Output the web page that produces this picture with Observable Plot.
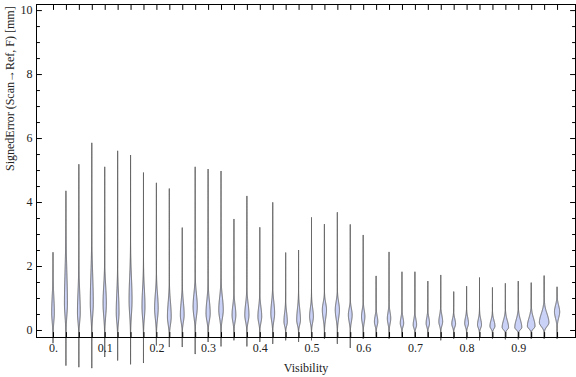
<!DOCTYPE html>
<html><head><meta charset="utf-8">
<script src="https://cdn.jsdelivr.net/npm/d3@7"></script>
<script src="https://cdn.jsdelivr.net/npm/@observablehq/plot@0.6"></script>
<style>body{margin:0;background:#fff}</style>
</head><body><div id="chart"></div>
<script>
// categories (Visibility bins)
const visibility = [0,0.025,0.05,0.075,0.1,0.125,0.15,0.175,0.2,0.225,0.25,0.275,0.3,0.325,0.35,0.375,0.4,0.425,0.45,0.475,0.5,0.525,0.55,0.575,0.6,0.625,0.65,0.675,0.7,0.725,0.75,0.775,0.8,0.825,0.85,0.875,0.9,0.925,0.95,0.975];
// violin extents (max / min of SignedError)
const maxErr = [2.43,4.35,5.18,5.85,5.1,5.6,5.47,4.92,4.6,4.42,3.2,5.1,5.03,4.97,3.47,4.19,3.21,3.99,2.42,2.5,3.52,3.31,3.68,3.3,2.97,1.69,2.44,1.82,1.82,1.53,1.72,1.2,1.37,1.64,1.33,1.46,1.53,1.48,1.7,1.35];
const minErr = [-0.4,-1.1,-1.15,-1.18,-0.83,-0.94,-1.06,-1.02,-0.47,-0.52,-0.52,-0.74,-0.36,-0.5,-0.31,-0.5,-0.36,-0.42,-0.31,-0.36,-0.31,-0.26,-0.42,-0.55,-0.26,-0.2,-0.26,-0.2,-0.2,-0.2,-0.31,-0.26,-0.28,-0.31,-0.26,-0.28,-0.28,-0.26,-0.26,-0.26];
// density mode location, relative peak density and spreads above / below the mode
const modeErr = [0.55,0.83,0.55,0.83,0.83,0.55,0.94,0.73,0.68,0.42,0.47,0.73,0.52,0.63,0.47,0.47,0.42,0.52,0.26,0.31,0.42,0.63,0.63,0.47,0.42,0.26,0.36,0.21,0.16,0.21,0.26,0.19,0.21,0.16,0.12,0.08,0.08,0.12,0.23,0.57];
const peakDensity = [0.27,0.3,0.28,0.3,0.33,0.28,0.3,0.3,0.36,0.38,0.38,0.42,0.42,0.45,0.38,0.42,0.38,0.38,0.34,0.38,0.38,0.42,0.42,0.38,0.34,0.34,0.34,0.34,0.34,0.34,0.38,0.38,0.38,0.4,0.5,0.64,0.7,0.76,0.95,0.52];
const spreadUp = [0.5,1.0,0.65,0.9,0.55,0.6,0.7,0.55,0.45,0.45,0.4,0.4,0.4,0.4,0.3,0.35,0.3,0.35,0.28,0.35,0.27,0.22,0.25,0.2,0.2,0.18,0.2,0.18,0.18,0.18,0.2,0.16,0.18,0.18,0.18,0.22,0.24,0.25,0.28,0.2];
const spreadDown = [0.3,0.4,0.3,0.4,0.4,0.3,0.45,0.35,0.33,0.25,0.22,0.31,0.23,0.27,0.21,0.21,0.19,0.23,0.13,0.15,0.19,0.27,0.27,0.21,0.19,0.13,0.17,0.11,0.1,0.11,0.13,0.1,0.11,0.1,0.08,0.07,0.07,0.08,0.12,0.2];
// tick labels
const xTickLabels = [0,0.1,0.2,0.3,0.4,0.5,0.6,0.7,0.8,0.9];
const yMajorTicks = [0,2,4,6,8,10];
const yMinorTicks = [0.5,1,1.5,2.5,3,3.5,4.5,5,5.5,6.5,7,7.5,8.5,9,9.5];

const densityScale = 0.0097; // x units per unit of relative density
const pts = [];
visibility.forEach((v, i) => {
  const lo = minErr[i], hi = maxErr[i], m = modeErr[i], d = peakDensity[i];
  const n = 400;
  for (let k = 0; k <= n; k++) {
    const y = lo + (hi - lo) * k / n;
    const s = y > m ? spreadUp[i] : spreadDown[i];
    const w = (k === 0 || k === n) ? 0 : d * Math.exp(-0.5 * ((y - m) / s) ** 2);
    pts.push({i, v, y, w});
  }
});

const tickShape = {draw(ctx, l) { ctx.moveTo(0, 0); ctx.lineTo(0, -l); }};
const tick = (data, o) => Plot.vector(data, {anchor: "start", shape: tickShape, stroke: "black", strokeWidth: 1, ...o});

const chart = Plot.plot({
  width: 576, height: 377,
  marginLeft: 36, marginRight: 1, marginTop: 4, marginBottom: 40,
  style: {fontFamily: "Liberation Serif", fontSize: "12px", color: "#222", background: "#fff"},
  x: {domain: [-0.0329, 1.0097]},
  y: {domain: [-0.219, 10.19]},
  marks: [
    Plot.areaX(pts, {y: "y", x1: d => d.v - d.w * densityScale, x2: d => d.v + d.w * densityScale, z: "i",
      fill: "#cbd2f7", stroke: "#555", strokeWidth: 0.9, strokeLinejoin: "round"}),
    Plot.frame({stroke: "black"}),
    tick(visibility, {x: d => d, frameAnchor: "top", length: 5, rotate: 180}),
    tick(visibility, {x: d => d, frameAnchor: "bottom", length: 5, rotate: 0}),
    tick(yMajorTicks, {y: d => d, frameAnchor: "left", length: 5, rotate: 90}),
    tick(yMinorTicks, {y: d => d, frameAnchor: "left", length: 3, rotate: 90}),
    tick(yMajorTicks, {y: d => d, frameAnchor: "right", length: 5, rotate: -90}),
    tick(yMinorTicks, {y: d => d, frameAnchor: "right", length: 3, rotate: -90}),
    Plot.axisX(xTickLabels, {tickSize: 0, tickPadding: 6, tickFormat: d => d === 0 ? "0." : String(d), label: null, fontSize: 12}),
    Plot.axisY(yMajorTicks, {tickSize: 0, tickPadding: 4, tickFormat: d => String(d), label: null, fontSize: 12}),
    Plot.text(["Visibility"], {frameAnchor: "bottom", dy: 26, lineAnchor: "top", fontSize: 12}),
    Plot.text(["SignedError (Scan\u2192Ref, F) [mm]"], {frameAnchor: "left", dx: -26, rotate: -90, fontSize: 12})
  ]
});
document.getElementById("chart").appendChild(chart);
</script>
</body></html>
